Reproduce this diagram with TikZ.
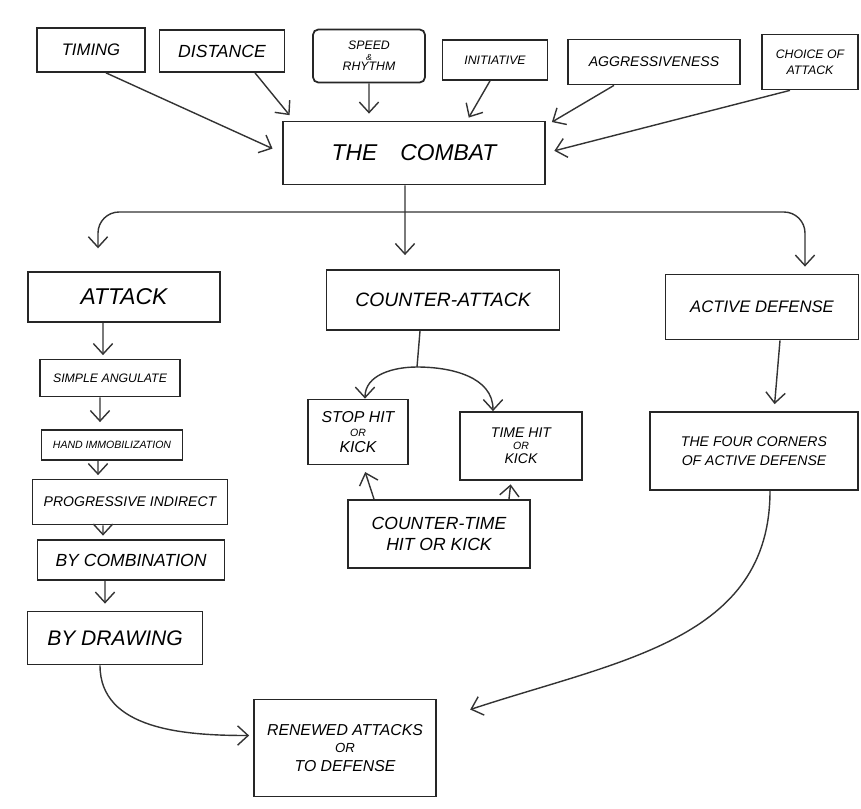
\documentclass[tikz,border=0pt]{standalone}
\usepackage{fontspec}
\setmainfont{Liberation Sans}
\usetikzlibrary{arrows.meta}
\begin{document}
\begin{tikzpicture}[x=0.02cm,y=-0.02cm,
  box/.style={draw=black!85, line width=1pt, inner sep=1pt, align=center, font=\itshape},
  arr/.style={draw=black!80, line width=0.8pt, -{Straight Barb[length=6pt,width=11pt]}},
  ln/.style={draw=black!80, line width=0.8pt}]
\useasboundingbox (0,0) rectangle (861,808);
% top row
\node[box, minimum width=2.16cm, minimum height=0.88cm, font=\itshape\fontsize{9.5}{11}\selectfont] (timing) at (91,50) {TIMING};
\node[box, minimum width=2.5cm, minimum height=0.84cm, font=\itshape\fontsize{10}{12}\selectfont] (distance) at (222,51) {DISTANCE};
\node[box, minimum width=2.24cm, minimum height=1.06cm, rounded corners=3pt, font=\itshape\fontsize{7}{7}\selectfont] (speed) at (369,56) {SPEED\\[-1pt]{\fontsize{5}{5}\selectfont\&}\\[-1pt]RHYTHM};
\node[box, minimum width=2.1cm, minimum height=0.8cm, font=\itshape\fontsize{7}{8}\selectfont] (initiative) at (495,60) {INITIATIVE};
\node[box, minimum width=3.44cm, minimum height=0.9cm, font=\itshape\fontsize{8}{10}\selectfont] (aggress) at (654,62) {AGGRESSIVENESS};
\node[box, minimum width=1.92cm, minimum height=1.1cm, font=\itshape\fontsize{7}{9}\selectfont] (choice) at (810,62) {CHOICE OF\\ATTACK};
% combat
\node[box, minimum width=5.24cm, minimum height=1.26cm, font=\itshape\fontsize{13}{15}\selectfont] (combat) at (414,153) {THE\quad COMBAT};
% second level
\node[box, minimum width=3.84cm, minimum height=1.0cm, font=\itshape\fontsize{13}{15}\selectfont] (attack) at (124,297) {ATTACK};
\node[box, minimum width=4.66cm, minimum height=1.2cm, font=\itshape\fontsize{11}{13}\selectfont] (counter) at (443,300) {COUNTER-ATTACK};
\node[box, minimum width=3.86cm, minimum height=1.3cm, font=\itshape\fontsize{9.5}{11}\selectfont] (active) at (762,307) {ACTIVE DEFENSE};
% attack chain
\node[box, minimum width=2.8cm, minimum height=0.74cm, font=\itshape\fontsize{7}{8}\selectfont] (simple) at (110,378) {SIMPLE ANGULATE};
\node[box, minimum width=2.82cm, minimum height=0.6cm, font=\itshape\fontsize{6}{7}\selectfont] (hand) at (112,445) {HAND IMMOBILIZATION};
\node[box, minimum width=3.9cm, minimum height=0.9cm, font=\itshape\fontsize{8}{10}\selectfont] (prog) at (130,502) {PROGRESSIVE INDIRECT};
\node[box, minimum width=3.74cm, minimum height=0.8cm, font=\itshape\fontsize{10}{12}\selectfont] (comb) at (131,560) {BY COMBINATION};
\node[box, minimum width=3.5cm, minimum height=1.06cm, font=\itshape\fontsize{12}{14}\selectfont] (drawing) at (115,638) {BY DRAWING};
% counter chain
\node[box, minimum width=2cm, minimum height=1.3cm, font=\itshape\fontsize{9}{10}\selectfont] (stop) at (358,432) {STOP HIT\\[-2pt]{\fontsize{6}{6}\selectfont OR}\\[-1pt]KICK};
\node[box, minimum width=2.44cm, minimum height=1.36cm, font=\itshape\fontsize{8}{9}\selectfont] (time) at (521,446) {TIME HIT\\[-2pt]{\fontsize{6}{6}\selectfont OR}\\[-1pt]KICK};
\node[box, minimum width=3.64cm, minimum height=1.36cm, font=\itshape\fontsize{10}{12}\selectfont] (countertime) at (439,534) {COUNTER-TIME\\HIT OR KICK};
% active chain
\node[box, minimum width=4.16cm, minimum height=1.56cm, font=\itshape\fontsize{8}{11}\selectfont] (four) at (754,451) {THE FOUR CORNERS\\OF ACTIVE DEFENSE};
% final
\node[box, minimum width=3.64cm, minimum height=1.94cm, font=\itshape\fontsize{9}{12}\selectfont] (renewed) at (345,748) {RENEWED ATTACKS\\[-2pt]{\fontsize{7.5}{8}\selectfont OR}\\[-1pt]TO DEFENSE};
% top arrows
\draw[arr, shorten >=6pt] ([xshift=0.3cm]timing.south) -- (combat.west);
\draw[arr, shorten >=4pt] ([xshift=0.66cm]distance.south) -- ([xshift=-2.4cm]combat.north);
\draw[arr, shorten >=4pt] (speed.south) -- ([xshift=-0.9cm]combat.north);
\draw[arr, shorten >=2pt] ([xshift=-0.1cm]initiative.south) -- ([xshift=1.06cm]combat.north);
\draw[arr, shorten >=4pt] ([xshift=-0.8cm]aggress.south) -- ([yshift=-0.1cm]combat.north east);
\draw[arr, shorten >=5pt] ([xshift=-0.4cm]choice.south) -- (combat.east);
% branch
\coordinate (br) at (405,212);
\draw[arr, shorten >=8pt] ([xshift=-0.18cm]combat.south) -- ([xshift=-0.76cm]counter.north);
\draw[arr, rounded corners=12pt, shorten >=13pt] (br) -| ([xshift=-0.52cm]attack.north);
\draw[arr, rounded corners=12pt, shorten >=4pt] (br) -| ([xshift=0.86cm]active.north);
% attack chain arrows
\draw[arr, shorten >=2pt] ([xshift=-0.42cm]attack.south) -- ([xshift=-0.14cm]simple.north);
\draw[arr, shorten >=4pt] ([xshift=-0.2cm]simple.south) -- ([xshift=-0.24cm]hand.north);
\draw[arr, shorten >=2pt] ([xshift=-0.28cm]hand.south) -- ([xshift=-0.64cm]prog.north);
\draw[arr, shorten >=2pt] ([xshift=-0.54cm]prog.south) -- ([xshift=-0.56cm]comb.north);
\draw[arr, shorten >=4pt] ([xshift=-0.52cm]comb.south) -- ([xshift=-0.2cm]drawing.north);
\draw[arr] ([xshift=-0.3cm]drawing.south) to[out=-90,in=180] ([xshift=-0.08cm,yshift=0.25cm]renewed.west);
% counter chain
\coordinate (cs) at (417,367);
\draw[ln] ([xshift=-0.46cm]counter.south) -- (cs);
\draw[arr] (cs) to[out=180,in=90] ([xshift=0.14cm]stop.north);
\draw[arr] (cs) to[out=0,in=90] ([xshift=-0.56cm]time.north);
\draw[arr, shorten >=4pt] ([xshift=-1.3cm]countertime.north) -- ([xshift=0.1cm]stop.south);
\draw[arr, shorten >=2pt] ([xshift=1.4cm]countertime.north) -- ([xshift=-0.2cm]time.south);
% active chain
\draw[arr, shorten >=4pt] ([xshift=0.36cm]active.south) -- ([xshift=0.4cm]four.north);
\draw[arr, shorten >=2pt] ([xshift=0.32cm]four.south) .. controls (770,640) and (620,660) .. ([xshift=0.6cm,yshift=-0.24cm]renewed.north east);
\end{tikzpicture}
\end{document}
